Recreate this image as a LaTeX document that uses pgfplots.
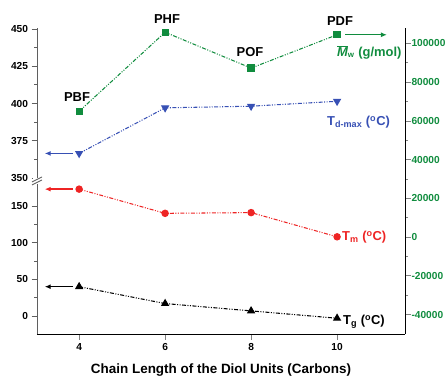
\documentclass[border=0pt]{standalone}
\usepackage{fontspec}
\setmainfont{Liberation Sans}
\usepackage{pgfplots}
\pgfplotsset{compat=1.18}
\usetikzlibrary{arrows.meta}
\definecolor{cgreen}{RGB}{16,140,62}
\definecolor{cblue}{RGB}{55,80,180}
\definecolor{cred}{RGB}{238,36,36}
\definecolor{axgray}{RGB}{95,95,95}
\pgfplotsset{
  base/.style={scale only axis, width=368bp, xmin=3.02, xmax=11.58,
    tick align=outside, major tick length=5.5bp, minor tick length=3bp,
    ticklabel style={font=\fontsize{10.2}{12}\selectfont\bfseries},
    /pgf/number format/assume math mode=true,
    /pgf/number format/1000 sep={},
    scaled y ticks=false,
    axis line style={line width=0.9pt},
    tick style={line width=0.9pt},
    clip=false,
  },
  ddd/.style={line width=1.05pt, dash pattern=on 4pt off 1.5pt on 1pt off 1.5pt on 1pt off 1.5pt},
}
\begin{document}
\begin{tikzpicture}
\useasboundingbox (0,0) rectangle (447bp,377bp);
% lower segment
\begin{axis}[base, at={(37bp,43bp)}, anchor=south west, height=150bp,
  ymin=-24.5, ymax=180,
  axis x line*=bottom, axis y line*=left,
  y axis line style={axgray}, y tick style={axgray},
  xtick={4,6,8,10}, ytick={0,50,100,150}, minor ytick={25,75,125},
  xlabel={Chain Length of the Diol Units (Carbons)},
  xlabel style={font=\fontsize{13.5}{16}\selectfont\bfseries, at={(axis description cs:0.5,0)}, anchor=center, yshift=-36bp},
]
\addplot[ddd, cred, mark=*, mark size=3.2pt, mark options={solid}] coordinates {(4,173) (6,140) (8,141) (10,108)};
\addplot[ddd, black, mark=triangle*, mark size=3.8pt, mark options={solid}] coordinates {(4,40) (6,17) (8,7) (10,-3)};
\draw[cred, line width=1.3pt, -{Latex[length=6pt,width=5pt]}] (axis cs:3.86,173) -- (axis cs:3.2,173);
\draw[black, line width=1.3pt, -{Latex[length=6pt,width=5pt]}] (axis cs:3.86,40) -- (axis cs:3.2,40);
\end{axis}
% upper segment
\begin{axis}[base, at={(37bp,199bp)}, anchor=south west, height=150bp,
  ymin=350, ymax=450.7,
  hide x axis, axis y line*=left,
  y axis line style={axgray}, y tick style={axgray},
  ytick={350,375,400,425,450}, minor ytick={362.5,387.5,412.5,437.5},
]
\addplot[ddd, cblue, mark=triangle*, mark size=3.8pt, mark options={solid, rotate=180}] coordinates {(4,366.5) (6,397.1) (8,398.2) (10,401.5)};
\draw[cblue, line width=1.3pt, -{Latex[length=6pt,width=5pt]}] (axis cs:3.86,366.5) -- (axis cs:3.2,366.5);
\end{axis}
% right axis
\begin{axis}[base, at={(37bp,43bp)}, anchor=south west, height=306bp,
  ymin=-50000, ymax=108000,
  hide x axis, axis y line*=right,
  ytick={-40000,-20000,0,20000,40000,60000,80000,100000},
  yticklabels={-40000,-20000,0,20000,40000,60000,80000,100000},
  minor y tick num=1,
  yticklabel style={cgreen, xshift=-2.5bp},
]
\addplot[ddd, cgreen, mark=square*, mark size=3.1pt, mark options={solid}] coordinates {(4,65000) (6,105800) (8,87300) (10,104500)};
\draw[cgreen, line width=1.3pt, -{Latex[length=6pt,width=5pt]}] (axis cs:10.19,104500) -- (axis cs:11.16,104500);
\end{axis}
% axis break
\fill[white] (33bp,193bp) rectangle (41bp,199bp);
\draw[axgray, line width=0.9pt] (32bp,192bp) -- (42bp,197bp);
\draw[axgray, line width=0.9pt] (32bp,195bp) -- (42bp,200bp);
% labels
\begin{scope}[every node/.style={font=\fontsize{13}{15}\selectfont\bfseries, inner sep=0pt}]
\node at (77bp,280bp) {PBF};
\node at (167bp,358bp) {PHF};
\node at (250bp,325bp) {POF};
\node at (340bp,356bp) {PDF};
\node[anchor=west, cgreen] at (337bp,325bp) {$\overline{\mbox{\itshape M}}_{\mbox{\fontsize{8}{9}\selectfont w}}$ (g/mol)};
\node[anchor=west, cblue] at (327bp,255bp) {T\textsubscript{d-max} (\textsuperscript{o}C)};
\node[anchor=west, cred] at (342bp,140bp) {T\textsubscript{m} (\textsuperscript{o}C)};
\node[anchor=west, black] at (343bp,55bp) {T\textsubscript{g} (\textsuperscript{o}C)};
\end{scope}
\end{tikzpicture}
\end{document}
